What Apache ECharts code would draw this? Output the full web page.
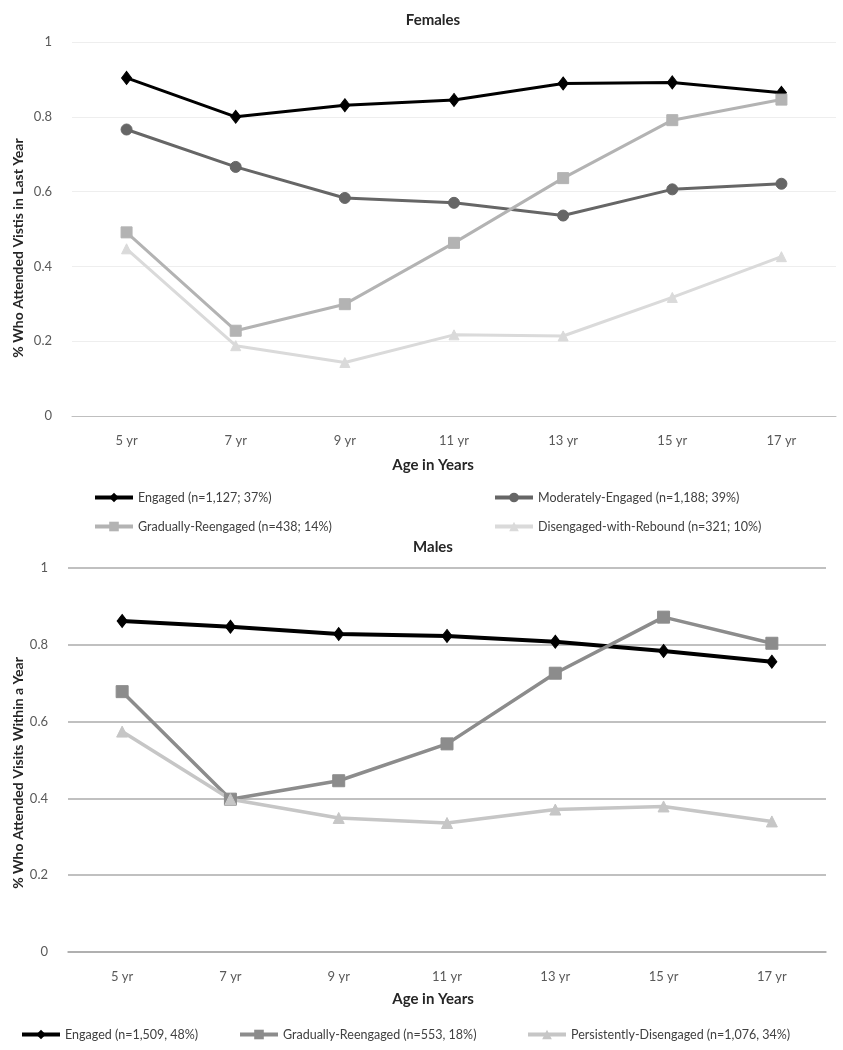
<!DOCTYPE html>
<html><head><meta charset="utf-8">
<script src="https://cdn.jsdelivr.net/npm/echarts@6/dist/echarts.min.js"></script>
<style>html,body{margin:0;padding:0;background:#fff}#c{width:843px;height:1050px}</style>
</head><body><div id="c"></div>
<script>
const categories = ['5 yr','7 yr','9 yr','11 yr','13 yr','15 yr','17 yr'];
const femaleTitle = 'Females';
const maleTitle = 'Males';
const xName = 'Age in Years';
const femaleYName = '% Who Attended Vistis in Last Year';
const maleYName = '% Who Attended Visits Within a Year';

const femNames = ['Engaged (n=1,127; 37%)','Moderately-Engaged (n=1,188; 39%)','Gradually-Reengaged (n=438; 14%)','Disengaged-with-Rebound (n=321; 10%)'];
const femEngaged    = [0.904,0.800,0.831,0.845,0.889,0.892,0.864];
const femModerate   = [0.766,0.666,0.583,0.570,0.536,0.606,0.621];
const femGradual    = [0.491,0.228,0.299,0.463,0.636,0.791,0.846];
const femDisengaged = [0.447,0.188,0.143,0.217,0.214,0.317,0.426];

const maleNames = ['Engaged (n=1,509, 48%)','Gradually-Reengaged (n=553, 18%)','Persistently-Disengaged (n=1,076, 34%)'];
const maleEngaged = [0.862,0.847,0.828,0.823,0.808,0.784,0.756];
const maleGradual = [0.678,0.398,0.446,0.542,0.726,0.872,0.804];
const malePersist = [0.574,0.398,0.349,0.336,0.371,0.379,0.340];

const FONT = 'Lato, "Noto Sans", sans-serif';
const TXT = '#404040';

function mkSeries(name, data, idx, color, symbol, size, width) {
  return {
    name, type: 'line', data, xAxisIndex: idx, yAxisIndex: idx,
    symbol, symbolSize: size, showSymbol: true,
    lineStyle: { color, width },
    itemStyle: { color, borderColor: color },
    emphasis: { disabled: true }, animation: false
  };
}
function mkLegend(name, left, top) {
  return {
    data: [name], left, top, itemWidth: 38, itemHeight: 12, itemGap: 0,
    selectedMode: false,
    lineStyle: { width: 4 },
    textStyle: { fontFamily: FONT, fontSize: 12.5, color: TXT }
  };
}
function xAx(idx) {
  return {
    type: 'category', data: categories, gridIndex: idx, boundaryGap: true,
    axisLine: { show: false }, axisTick: { show: false },
    axisLabel: { fontFamily: FONT, fontSize: 13, color: '#595959', margin: 18 }
  };
}
function yAx(idx, gridColor, gridWidth) {
  return {
    type: 'value', gridIndex: idx, min: 0, max: 1, interval: 0.2,
    axisLine: { show: false }, axisTick: { show: false },
    axisLabel: { fontFamily: FONT, fontSize: 13, color: '#595959', margin: 20 },
    splitLine: { lineStyle: { color: gridColor, width: gridWidth } }
  };
}

const chart = echarts.init(document.getElementById('c'), null, { renderer: 'canvas' });
chart.setOption({
  backgroundColor: '#fff',
  animation: false,
  title: [
    { text: femaleTitle, left: 428, top: 8, textAlign: 'center', textStyle: { fontFamily: FONT, fontSize: 15, fontWeight: 'bold', color: '#262626' } },
    { text: xName, left: 428, top: 453, textAlign: 'center', textStyle: { fontFamily: FONT, fontSize: 15, fontWeight: 'bold', color: '#262626' } },
    { text: maleTitle, left: 428, top: 535, textAlign: 'center', textStyle: { fontFamily: FONT, fontSize: 15, fontWeight: 'bold', color: '#262626' } },
    { text: xName, left: 428, top: 987, textAlign: 'center', textStyle: { fontFamily: FONT, fontSize: 15, fontWeight: 'bold', color: '#262626' } }
  ],
  graphic: [
    { type: 'text', x: 18, y: 248, rotation: Math.PI / 2, style: { text: femaleYName, fontFamily: FONT, fontSize: 14, fontWeight: 'bold', fill: '#262626', align: 'center', verticalAlign: 'middle' } },
    { type: 'text', x: 18, y: 773, rotation: Math.PI / 2, style: { text: maleYName, fontFamily: FONT, fontSize: 14, fontWeight: 'bold', fill: '#262626', align: 'center', verticalAlign: 'middle' } }
  ],
  legend: [
    mkLegend(femNames[0], 88, 486),
    mkLegend(femNames[1], 488, 486),
    mkLegend(femNames[2], 88, 515),
    mkLegend(femNames[3], 488, 515),
    mkLegend(maleNames[0], 15, 1023),
    mkLegend(maleNames[1], 233, 1023),
    mkLegend(maleNames[2], 521, 1023)
  ],
  grid: [
    { left: 72, right: 7, top: 42, height: 374 },
    { left: 68, right: 17, top: 568, height: 384 }
  ],
  xAxis: [
    Object.assign(xAx(0), { axisLine: { show: true, lineStyle: { color: '#bfbfbf', width: 1 } } }),
    Object.assign(xAx(1), { axisLine: { show: true, lineStyle: { color: '#ababab', width: 1.6 } } })
  ],
  yAxis: [yAx(0, '#eeeeee', 1), yAx(1, '#ababab', 1.6)],
  series: [
    mkSeries(femNames[0], femEngaged, 0, '#000000', 'diamond', [10, 13], 3),
    mkSeries(femNames[1], femModerate, 0, '#666666', 'circle', 11, 3),
    mkSeries(femNames[2], femGradual, 0, '#b3b3b3', 'rect', 11, 3),
    mkSeries(femNames[3], femDisengaged, 0, '#dadada', 'triangle', 10, 3),
    mkSeries(maleNames[0], maleEngaged, 1, '#000000', 'diamond', [10, 13], 4),
    mkSeries(maleNames[1], maleGradual, 1, '#8c8c8c', 'rect', 12, 3.5),
    mkSeries(maleNames[2], malePersist, 1, '#c6c6c6', 'triangle', 11, 3.5)
  ]
});
</script>
</body></html>
